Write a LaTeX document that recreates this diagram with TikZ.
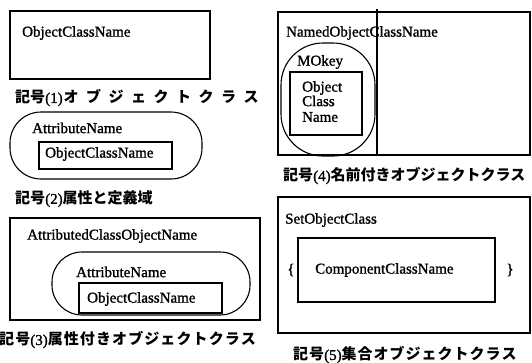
\documentclass[tikz,border=0pt]{standalone}
\usepackage{fontspec}
\setmainfont{Liberation Serif}[AutoFakeBold=1.3]
\newfontfamily\cjk{Noto Sans CJK JP}
\newdimen\lsgapd
\def\lsgobble#1{}
\def\ls#1#2{\lsgapd=#1\relax\lsA#2\relax}
\def\lsA#1{#1\futurelet\lsnext\lsB}
\def\lsB{\ifx\lsnext\relax\expandafter\lsgobble\else\kern\lsgapd\expandafter\lsA\fi}
\begin{document}
\begin{tikzpicture}[x=1pt,y=-1pt,
  frame/.style={draw=black,line width=1.1pt},
  lbl/.style={anchor=west,inner sep=0pt,font=\fontsize{15}{17}\selectfont\bfseries},
  captxt/.style={anchor=west,inner sep=0pt,font=\fontsize{15}{18}\selectfont\cjk\bfseries}]
\useasboundingbox (0,0) rectangle (532,362);
% (1)
\draw[frame] (10,11) rectangle (210,79);
\node[lbl] (t1) at (22,33) {ObjectClassName};
\node[captxt] (c1) at (15,98) {記号{\rmfamily(1)}\kern1pt\ls{7.5pt}{オブジェクトクラス}};
% (2)
\draw[frame,rounded corners=31pt] (10,112) rectangle (202,179);
\node[lbl] (t2a) at (32,128) {AttributeName};
\draw[frame] (39,142) rectangle (172,169);
\node[lbl] (t2b) at (45,154) {ObjectClassName};
\node[captxt] (c2) at (15,199) {記号{\rmfamily(2)}属性と定義域};
% (3)
\draw[frame] (10,218) rectangle (260,320);
\node[lbl] (t3a) at (27,236) {AttributedClassObjectName};
\draw[frame,rounded corners=30pt] (52,252) rectangle (250,315);
\node[lbl] (t3b) at (76,272) {AttributeName};
\draw[frame] (79,283) rectangle (222,313);
\node[lbl] (t3c) at (87,299) {ObjectClassName};
\node[captxt] (c3) at (-1,340) {\ls{1.1pt}{記号}{\rmfamily(3)}\ls{1.1pt}{属性付きオブジェクトクラス}};
% (4)
\draw[frame] (278,12) rectangle (530,155);
\draw[frame] (377,9) -- (377,155);
\node[lbl] (t4a) at (286,33) {NamedObjectClassName};
\draw[frame,rounded corners=42pt] (281,43) rectangle (375,156);
\node[lbl] (t4b) at (297,62) {MOkey};
\draw[frame] (290,72) rectangle (362,135);
\node[lbl] (t4c) at (302,88) {Object};
\node[lbl] (t4d) at (302,101) {Class};
\node[lbl] (t4e) at (302,117) {Name};
\node[captxt] (c4) at (283,176) {記号{\rmfamily(4)}名前付きオブジェクトクラス};
% (5)
\draw[frame] (278,197) rectangle (530,333);
\node[lbl] (t5a) at (285,220) {SetObjectClass};
\draw[frame] (298,238) rectangle (495,302);
\node[lbl,anchor=center] (lb) at (291,270) {\{};
\node[lbl,anchor=center] (rb) at (510,270) {\}};
\node[lbl] (t5b) at (315,270) {ComponentClassName};
\node[captxt] (c5) at (293,355) {\ls{1pt}{記号}{\rmfamily(5)}\ls{1pt}{集合オブジェクトクラス}};
\end{tikzpicture}
\end{document}
